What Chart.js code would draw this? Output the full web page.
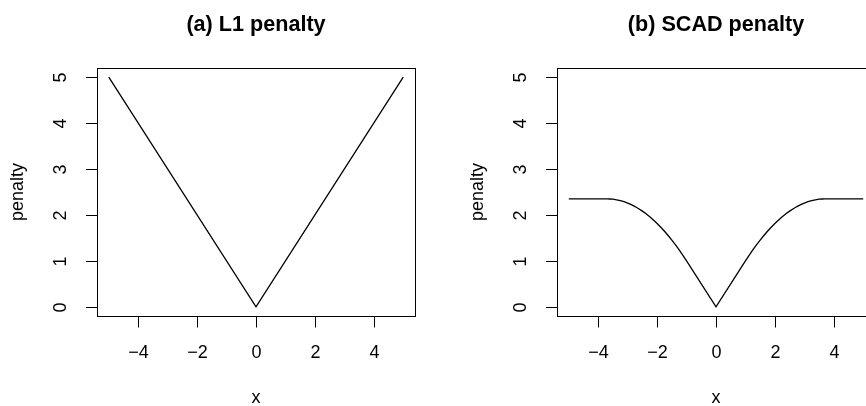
<!DOCTYPE html>
<html><head><meta charset="utf-8">
<script src="https://cdn.jsdelivr.net/npm/chart.js@4/dist/chart.umd.min.js"></script>
<style>
html,body{margin:0;padding:0;background:#fff;overflow:hidden;width:866px;height:406px;position:relative}
.p{position:absolute;top:0;width:433px;height:406px}
canvas{display:block}
</style></head><body>
<div class="p" style="left:0"><canvas id="c1" width="433" height="406"></canvas></div>
<div class="p" style="left:460px"><canvas id="c2" width="433" height="406"></canvas></div>
<script>
const xTicks = [-4, -2, 0, 2, 4];
const yTicks = [0, 1, 2, 3, 4, 5];
const titles = ["(a) L1 penalty", "(b) SCAD penalty"];
const xLabel = "x";
const yLabel = "penalty";

const l1X = [-5, 0, 5];
const l1Y = [5, 0, 5];

const scadX = [-5, -4.5, -4, -3.7, -3.6, -3.5, -3.375, -3.25, -3.125, -3, -2.875, -2.75, -2.625, -2.5,
  -2.375, -2.25, -2.125, -2, -1.875, -1.75, -1.625, -1.5, -1.375, -1.25, -1.125, -1,
  0,
  1, 1.125, 1.25, 1.375, 1.5, 1.625, 1.75, 1.875, 2, 2.125, 2.25, 2.375, 2.5, 2.625, 2.75,
  2.875, 3, 3.125, 3.25, 3.375, 3.5, 3.6, 3.7, 4, 4.5, 5];
const scadY = [2.35, 2.35, 2.35, 2.35, 2.348, 2.343, 2.330, 2.313, 2.289, 2.259, 2.224, 2.183, 2.136, 2.083,
  2.025, 1.961, 1.891, 1.815, 1.733, 1.646, 1.553, 1.454, 1.349, 1.238, 1.122, 1,
  0,
  1, 1.122, 1.238, 1.349, 1.454, 1.553, 1.646, 1.733, 1.815, 1.891, 1.961, 2.025, 2.083, 2.136, 2.183,
  2.224, 2.259, 2.289, 2.313, 2.330, 2.343, 2.348, 2.35, 2.35, 2.35, 2.35];

const FONT = '"Liberation Sans", Arial, Helvetica, sans-serif';
function fmt(v){ return v < 0 ? '\u2212' + Math.abs(v) : String(v); }

const rAxes = {
  id: 'rAxes',
  afterDraw(chart, args, opts) {
    const ctx = chart.ctx, a = chart.chartArea, xs = chart.scales.x, ys = chart.scales.y;
    ctx.save();
    ctx.strokeStyle = '#000'; ctx.fillStyle = '#000'; ctx.lineWidth = 1;
    const L = Math.round(a.left), T = Math.round(a.top), R = Math.round(a.right), B = Math.round(a.bottom);
    ctx.strokeRect(L + 0.5, T + 0.5, R - L, B - T);
    function seg(x1, y1, x2, y2){ ctx.beginPath(); ctx.moveTo(x1, y1); ctx.lineTo(x2, y2); ctx.stroke(); }
    ctx.font = '18px ' + FONT;
    ctx.textAlign = 'center'; ctx.textBaseline = 'alphabetic';
    xTicks.forEach(v => {
      const px = Math.round(xs.getPixelForValue(v)) + 0.5;
      seg(px, B + 0.5, px, B + 11.5);
      ctx.fillText(fmt(v), px, 358);
    });
    yTicks.forEach(v => {
      const py = Math.round(ys.getPixelForValue(v)) + 0.5;
      seg(L - 11, py, L + 0.5, py);
      ctx.save(); ctx.translate(66, py); ctx.rotate(-Math.PI / 2);
      ctx.fillText(String(v), 0, 0); ctx.restore();
    });
    ctx.fillText(xLabel, (L + R) / 2, 403);
    ctx.save(); ctx.translate(23, (T + B) / 2); ctx.rotate(-Math.PI / 2);
    ctx.fillText(yLabel, 0, 0); ctx.restore();
    ctx.font = 'bold 21.6px ' + FONT;
    ctx.fillText(opts.title, (L + R) / 2, 31);
    ctx.restore();
  }
};

function make(id, xArr, yArr, title){
  new Chart(document.getElementById(id), {
    type: 'line',
    data: { datasets: [{
      data: xArr.map((v, i) => ({ x: v, y: yArr[i] })),
      borderColor: '#000', borderWidth: 1.3, pointRadius: 0, tension: 0, fill: false
    }]},
    options: {
      responsive: false, animation: false, events: [],
      layout: { padding: { left: 97, right: 18, top: 68, bottom: 90 } },
      scales: {
        x: { type: 'linear', min: -5.4, max: 5.4, display: false },
        y: { type: 'linear', min: -0.2, max: 5.2, display: false }
      },
      plugins: { legend: { display: false }, tooltip: { enabled: false }, rAxes: { title: title } }
    },
    plugins: [rAxes]
  });
}
make('c1', l1X, l1Y, titles[0]);
make('c2', scadX, scadY, titles[1]);
</script>
</body></html>
